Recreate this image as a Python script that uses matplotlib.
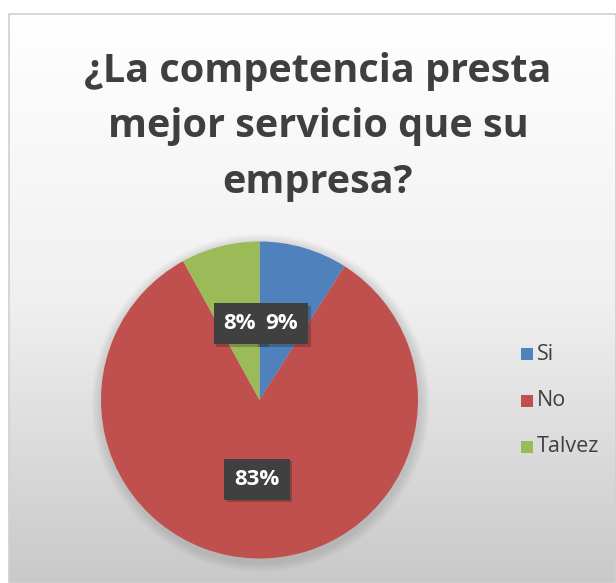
import numpy as np
import matplotlib
matplotlib.use('Agg')
import matplotlib.pyplot as plt
import matplotlib.patheffects as pe
from matplotlib.patches import Rectangle, Circle

# Data
categories = ['Si', 'No', 'Talvez']
values = [9, 83, 8]
colors = ['#4f81bd', '#c0504d', '#9bbb59']
title = '¿La competencia presta\nmejor servicio que su\nempresa?'

FONT = ['Open Sans', 'DejaVu Sans']

W, H = 616, 583
fig = plt.figure(figsize=(W / 100, H / 100), dpi=100)

# Background: white margin + grey gradient chart area
bg = fig.add_axes([0, 0, 1, 1])
bg.set_xlim(0, W)
bg.set_ylim(H, 0)
bg.axis('off')
grad = np.linspace(0, 1, 256).reshape(-1, 1)
cmap = matplotlib.colors.LinearSegmentedColormap.from_list('bg', ['#ffffff', '#f0f0f0', '#c9c9c9'])
bg.imshow(grad, cmap=cmap, extent=[9, W, H, 14], aspect='auto', zorder=0)
bg.add_patch(Rectangle((9, 14), W - 9, H - 14, fill=False, ec='#d0d0d0', lw=1.2, zorder=1))

bg.text(318, 127, title, ha='center', va='center', fontsize=28.5, fontweight='bold',
        family=FONT, color='#3f3f3f', linespacing=1.55, zorder=2)

# soft shadow under the pie
cx, cy, r = 259.5, 400, 158.5
for i in range(8):
    bg.add_patch(Circle((cx + 1, cy + 3), r + 2 + i * 1.2, fc='#808080', ec='none',
                        alpha=0.035, zorder=1))

# Pie
pax = fig.add_axes([(cx - r) / W, (H - cy - r) / H, 2 * r / W, 2 * r / H])
wedges, texts, autotexts = pax.pie(values, colors=colors, startangle=90, counterclock=False,
                                   autopct='%1.0f%%', pctdistance=0.5, radius=1.0,
                                   wedgeprops=dict(linewidth=0))
for i, t in enumerate(autotexts):
    t.set_color('white')
    t.set_fontsize(16)
    t.set_fontweight('bold')
    t.set_family(FONT)
    t.set_zorder(10 - i)
    t.set_bbox(dict(boxstyle='square,pad=0.45', fc='#404040', ec='none'))
    t.get_bbox_patch().set_path_effects([pe.SimplePatchShadow(offset=(2, -2), alpha=0.25),
                                         pe.Normal()])
pax.set_xlim(-1, 1)
pax.set_ylim(-1, 1)
pax.set_aspect('equal')
pax.axis('off')

# Legend
leg_y = [354, 401, 447]
for name, col, y in zip(categories, colors, leg_y):
    bg.add_patch(Rectangle((521, y - 6), 12, 12, fc=col, ec='none', zorder=3))
    bg.text(537, y, name, ha='left', va='center', fontsize=15.5,
            family=FONT, color='#404040', zorder=3)

fig.savefig('out.png', dpi=100)
